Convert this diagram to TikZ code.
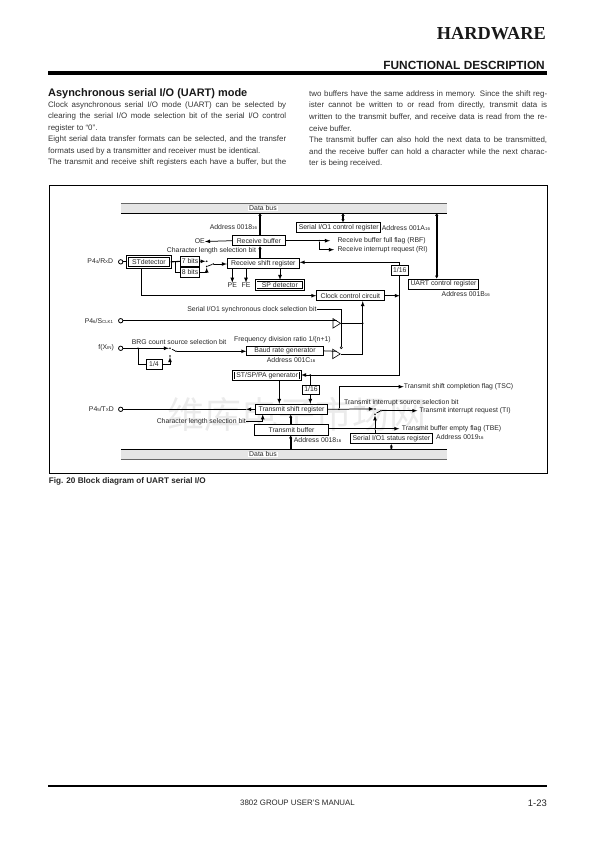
\documentclass[tikz,border=0pt]{standalone}
\usepackage{fontspec}
\setmainfont{Liberation Sans}
\newfontfamily\headserif{Liberation Serif}
\newfontfamily\cjk{Noto Sans CJK SC}
\usetikzlibrary{shapes.geometric,arrows.meta}
\newcommand{\sm}[1]{{\fontsize{4.4}{4}\selectfont #1}}
\newcommand{\jline}[1]{\makebox[238bp][s]{#1}}
\tikzset{
  lbl/.style={font=\fontsize{6.9}{7}\selectfont, text=black!85, inner sep=0pt},
  box/.style={lbl, draw, fill=white, line width=0.8pt, minimum height=10bp},
  dbox/.style={box, double, double distance=1pt, line width=0.75pt},
  body/.style={font=\fontsize{7.95}{8}\selectfont, text=black!80, inner sep=0pt, anchor=west},
  wire/.style={line width=0.75pt},
  busline/.style={line width=1.7pt, {Latex[length=3pt,width=3.6pt]}-{Latex[length=3pt,width=3.6pt]}},
  busup/.style={line width=1.7pt, -{Latex[length=3pt,width=3.6pt]}},
  jdot/.style={circle, fill=black, inner sep=0pt, minimum size=1.8bp},
  cdot/.style={circle, draw, fill=white, line width=0.5pt, inner sep=0pt, minimum size=2.2bp},
  pin/.style={circle, draw, fill=white, line width=0.8pt, inner sep=0pt, minimum size=4.4bp},
  buffer/.style={isosceles triangle, isosceles triangle stretches, draw, fill=white, line width=0.6pt,
    inner sep=0pt, minimum width=9.5bp, minimum height=7.5bp, anchor=left side},
  busbar/.style={fill=black!10, inner sep=0pt, minimum width=326bp, minimum height=8.7bp},
}
\begin{document}
\begin{tikzpicture}[x=1bp, y=-1bp, >=latex]
    \useasboundingbox (0,0) rectangle (595,842);

    % 1. Page head and rules
    \node[font=\headserif\bfseries\fontsize{18.4}{19}\selectfont, text=black!90, inner sep=0pt, anchor=east] (hardware) at (546,34) {HARDWARE};
    \node[font=\bfseries\fontsize{11.9}{13}\selectfont, text=black!90, inner sep=0pt, anchor=east] (funcdesc) at (545,65.7) {FUNCTIONAL DESCRIPTION};
    \fill (48,70.9) rectangle (547,74.7);
    \node[font=\bfseries\fontsize{11}{12}\selectfont, text=black!90, inner sep=0pt, anchor=west] (heading) at (48,93.3) {Asynchronous serial I/O (UART) mode};

    % 2. Two text columns
    \node[body] (la) at (48,105) {\jline{Clock asynchronous serial I/O mode (UART) can be selected by}};
    \node[body] (lb) at (48,116.7) {\jline{clearing the serial I/O mode selection bit of the serial I/O control}};
    \node[body] (lc) at (48,128) {register to “0”.};
    \node[body] (ld) at (48,139.3) {\jline{Eight serial data transfer formats can be selected, and the transfer}};
    \node[body] (le) at (48,151) {formats used by a transmitter and receiver must be identical.};
    \node[body] (lf) at (48,162.3) {\jline{The transmit and receive shift registers each have a buffer, but the}};
    \node[body] (ra) at (309,94) {\jline{two buffers have the same address in memory. Since the shift reg-}};
    \node[body] (rb) at (309,105.3) {\jline{ister cannot be written to or read from directly, transmit data is}};
    \node[body] (rc) at (309,116.7) {\jline{written to the transmit buffer, and receive data is read from the re-}};
    \node[body] (rd) at (309,128.3) {ceive buffer.};
    \node[body] (re) at (309,140) {\jline{The transmit buffer can also hold the next data to be transmitted,}};
    \node[body] (rf) at (309,151.7) {\jline{and the receive buffer can hold a character while the next charac-}};
    \node[body] (rg) at (309,163.3) {ter is being received.};

    % 3. Frame, watermark and the two data buses
    \draw[line width=0.9pt] (49.3,185.3) rectangle (547,473.7);
    \node[font=\cjk\fontsize{37}{38}\selectfont, text=black!8, inner sep=0pt] (watermark) at (297,414) {维库电子市场网};
    \node[busbar] (bustop) at (284,208.35) {};
    \draw[wire, black!60] (bustop.north west) -- (bustop.north east);
    \draw[wire] (bustop.south west) -- (bustop.south east);
    \node[lbl, fill=white, inner xsep=1.5pt] (bustoplbl) at (263,208.5) {Data bus};
    \node[busbar] (busbot) at (284,454.35) {};
    \draw[wire] (busbot.north west) -- (busbot.north east);
    \draw[wire, black!60] (busbot.south west) -- (busbot.south east);
    \node[lbl, fill=white, inner xsep=1.5pt] (busbotlbl) at (263,454.5) {Data bus};

    % 4. Receive side
    \node[box, minimum width=52.3bp] (rxbuf) at (258.85,240.7) {Receive buffer};
    \node[box, minimum width=72bp] (rxsr) at (263.3,263.3) {Receive shift register};
    \node[dbox, minimum width=47.5bp, minimum height=9bp] (spdet) at (279.85,284.85) {SP detector};
    \node[dbox, minimum width=43bp, minimum height=11bp] (stdet) at (148.85,261.85) {STdetector};
    \node[box, minimum width=18.6bp, minimum height=9.3bp] (bitsa) at (190,261.35) {7 bits};
    \node[box, minimum width=18.6bp, minimum height=9.6bp] (bitsb) at (190,272.5) {8 bits};
    \node[box, minimum width=84bp, minimum height=9.6bp] (sioctl) at (338.7,227.5) {Serial I/O1 control register};
    \node[box, minimum width=69.6bp] (uartreg) at (443.5,284) {UART control register};
    \node[box, minimum width=67.3bp] (clock) at (350.35,295.7) {Clock control circuit};
    \node[box, minimum width=17bp, minimum height=10.7bp] (divrx) at (399.8,270.35) {1/16};

    \node[lbl, anchor=east] (addra) at (257.3,226.9) {Address 0018\sm{16}};
    \node[lbl, anchor=west] (addrb) at (381.7,227.7) {Address 001A\sm{16}};
    \node[lbl, anchor=east] (addrc) at (490,294.3) {Address 001B\sm{16}};
    \node[lbl, anchor=east] (oe) at (205,241.5) {OE};
    \node[lbl, anchor=west] (charrx) at (166.7,250.3) {Character length selection bit};
    \node[lbl, anchor=west] (rbf) at (337.3,240.7) {Receive buffer full flag (RBF)};
    \node[lbl, anchor=west] (ri) at (337.3,249.7) {Receive interrupt request (RI)};
    \node[lbl] (pe) at (232.3,285.3) {PE};
    \node[lbl] (fe) at (246,285.3) {FE};
    \node[lbl, anchor=east] (rxdlbl) at (113.3,260.9) {P4\sm{4}/R\sm{X}D};
    \node[pin] (pinrx) at (120.7,261.85) {};

    \coordinate (rxcol) at (260,0);
    \coordinate (sicol) at (343,0);
    \coordinate (uacol) at (436.7,0);
    \draw[busup] (rxcol |- rxbuf.north) -- (rxcol |- bustop.south);
    \draw[busup] (rxcol |- rxsr.north) -- (rxcol |- rxbuf.south);
    \draw[busline] (sicol |- bustop.south) -- (sicol |- sioctl.north);
    \draw[busline] (uacol |- bustop.south) -- (uacol |- uartreg.north);
    \draw[wire, ->] (rxbuf.west) -- (oe.east);
    \draw[wire, ->] (rxbuf.east) -- (330,240.7);
    \coordinate (rbfjct) at (319.3,240.7);
    \node[jdot] (rbfdot) at (rbfjct) {};
    \draw[wire, ->] (rbfdot) |- (334,249.7);
    \draw[wire, ->] (pe |- rxsr.south) -- (pe.north);
    \draw[wire, ->] (fe |- rxsr.south) -- (fe.north);
    \draw[wire, ->] (280,268.3) -- (spdet.north -| 280,0);
    \draw[wire] (pinrx) -- (stdet.west);
    \draw[line width=1.1pt] (stdet.east) -- (bitsa.west);
    \coordinate (stjct) at (175.3,261.35);
    \draw[line width=1.1pt] (stjct) |- (bitsb.west);
    \node[jdot] (swra) at (206.7,261.2) {};
    \node[jdot] (swrb) at (206.7,266.5) {};
    \node[jdot] (swrp) at (213.3,264) {};
    \draw[wire, ->] (bitsa.east) -- (swra);
    \draw[wire, ->] (bitsb.east) -| (swrb);
    \draw[wire] (swrp) -- (swrb);
    \draw[wire, ->] (swrp) -- (rxsr.west |- swrp);
    \draw[wire, ->] (stdet.south -| 141.7,0) |- (clock.west);
    \draw[wire, ->] (clock.east) -- (divrx.south |- clock.east);
    \draw[wire, ->] (divrx.north) |- (rxsr.east |- 0,262.3);

    % 5. Clock selection and baud rate generator
    \node[lbl, anchor=east] (synclbl) at (316.7,309.3) {Serial I/O1 synchronous clock selection bit};
    \node[lbl, anchor=east] (sclklbl) at (113.3,320.9) {P4\sm{6}/S\sm{CLK1}};
    \node[pin] (pinsclk) at (120.7,320.7) {};
    \coordinate (selend) at (341.3,347.6);
    \draw[wire] (synclbl.east) -| (selend);
    \node[buffer] (bufa) at (337,320.7) {};
    \node[buffer] (bufb) at (336.7,351.3) {};
    \node[cdot] (seldot) at (selend) {};
    \draw[wire] (pinsclk) -- (bufa.left side);

    \node[lbl, anchor=east] (xinlbl) at (114,348.2) {f(X\sm{IN})};
    \node[pin] (pinxin) at (120.7,348.3) {};
    \node[lbl, anchor=west] (brglbl) at (131.7,342.3) {BRG count source selection bit};
    \node[lbl, anchor=west] (freqlbl) at (234,339.7) {Frequency division ratio 1/(n+1)};
    \node[box, minimum width=16bp] (divxin) at (154,364) {1/4};
    \node[box, minimum width=76.6bp, minimum height=9.7bp] (baud) at (285,350.85) {Baud rate generator};
    \node[lbl, anchor=west] (addrd) at (266.7,360.3) {Address 001C\sm{16}};

    \coordinate (clkcol) at (362.7,0);
    \draw[wire, ->] (bufb.apex) -| (clkcol |- clock.south);
    \node[jdot] (clkdot) at (clkcol |- bufa.apex) {};
    \draw[wire] (bufa.apex) -- (clkdot);
    \draw[wire] (baud.east) -- (bufb.left side);
    \node[jdot] (xindot) at (138,348.3) {};
    \node[jdot] (swba) at (170,348.3) {};
    \node[jdot] (swbb) at (170,356) {};
    \node[jdot] (swbp) at (176,351.3) {};
    \draw[wire, ->] (pinxin) -- (swba);
    \draw[wire] (xindot) |- (divxin.west);
    \draw[wire, ->] (divxin.east) -| (swbb);
    \draw[wire] (swbp) -- (172,349.2);
    \draw[wire, ->] (swbp) -- (baud.west |- swbp);

    % 6. Transmit side
    \node[dbox, minimum width=67bp, minimum height=8.6bp] (stgen) at (267.2,375.5) {ST/SP/PA generator};
    \node[box, minimum width=16.6bp, minimum height=9bp] (divtx) at (311,389.5) {1/16};
    \node[box, minimum width=72.4bp] (txsr) at (291.5,409.3) {Transmit shift register};
    \node[box, minimum width=73.6bp, minimum height=10.3bp] (txbuf) at (291.5,429.85) {Transmit buffer};
    \node[box, minimum width=82.7bp, minimum height=10.4bp] (sts) at (391.35,438.5) {Serial I/O1 status register};

    \node[lbl, anchor=east] (txdlbl) at (114,408.9) {P4\sm{5}/T\sm{X}D};
    \node[pin] (pintx) at (120.7,409.3) {};
    \node[lbl, anchor=east] (chartx) at (246,421.3) {Character length selection bit};
    \node[lbl, anchor=west] (addre) at (293.7,440.3) {Address 0018\sm{16}};
    \node[lbl, anchor=west] (addrf) at (436,437.3) {Address 0019\sm{16}};
    \node[lbl, anchor=west] (tsc) at (403.7,386.7) {Transmit shift completion flag (TSC)};
    \node[lbl, anchor=west] (srclbl) at (344,402.7) {Transmit interrupt source selection bit};
    \node[lbl, anchor=west] (ti) at (419.3,410.7) {Transmit interrupt request (TI)};
    \node[lbl, anchor=west] (tbe) at (401.7,428.7) {Transmit buffer empty flag (TBE)};

    \coordinate (txcol) at (290.7,0);
    \coordinate (txarrow) at (246,409.3);
    \draw[wire, ->] (txsr.west) -- (txarrow);
    \draw[wire] (txarrow) -- (pintx);
    \node[jdot] (genjct) at (310.3,375) {};
    \draw[wire, ->] (divrx.south) |- (stgen.east |- genjct);
    \draw[wire] (genjct) -- (divtx.north -| genjct);
    \draw[wire, ->] (divtx.south -| genjct) -- (txsr.north -| genjct);
    \draw[wire, ->] (stgen.south -| 279.3,0) -- (txsr.north -| 279.3,0);
    \draw[wire, ->] (chartx.east) -| (262.7,414.3);
    \draw[busup] (txcol |- txbuf.north) -- (txcol |- txsr.south);
    \draw[busup] (txcol |- busbot.north) -- (txcol |- txbuf.south);
    \draw[busline, {Latex[length=2.5pt,width=3pt]}-{Latex[length=2.5pt,width=3pt]}, line width=0.9pt] (sts.south) -- (sts.south |- busbot.north);

    \node[jdot] (tscdot) at (339,409.3) {};
    \node[jdot] (swta) at (375,408.9) {};
    \node[jdot] (swtb) at (375,414.3) {};
    \node[jdot] (swtp) at (381,410.7) {};
    \node[jdot] (tbedot) at (375,428.7) {};
    \draw[wire, ->] (txsr.east) -- (swta);
    \draw[wire, ->] (tscdot) |- (tsc.west);
    \draw[wire, ->] (swtp) -- (417.3,410.7);
    \draw[wire] (swtp) -- (376.5,413);
    \draw[wire, ->] (txbuf.east |- tbedot) -- (399.3,428.7);
    \draw[wire, ->] (tbedot) -- (swtb);
    \draw[wire] (tbedot) -- (tbedot |- sts.north);

    % 7. Caption and page foot
    \node[font=\bfseries\fontsize{8.2}{9}\selectfont, text=black!85, inner sep=0pt, anchor=west] (caption) at (48.7,481.3) {Fig. 20  Block diagram of UART serial I/O};
    \fill (48,785.2) rectangle (547,786.9);
    \node[font=\fontsize{7.9}{9}\selectfont, text=black!85, inner sep=0pt, anchor=west] (manual) at (240,803) {3802 GROUP USER'S MANUAL};
    \node[font=\fontsize{9.5}{10}\selectfont, text=black!85, inner sep=0pt, anchor=east] (pageno) at (547,803) {1-23};

\end{tikzpicture}
\end{document}
